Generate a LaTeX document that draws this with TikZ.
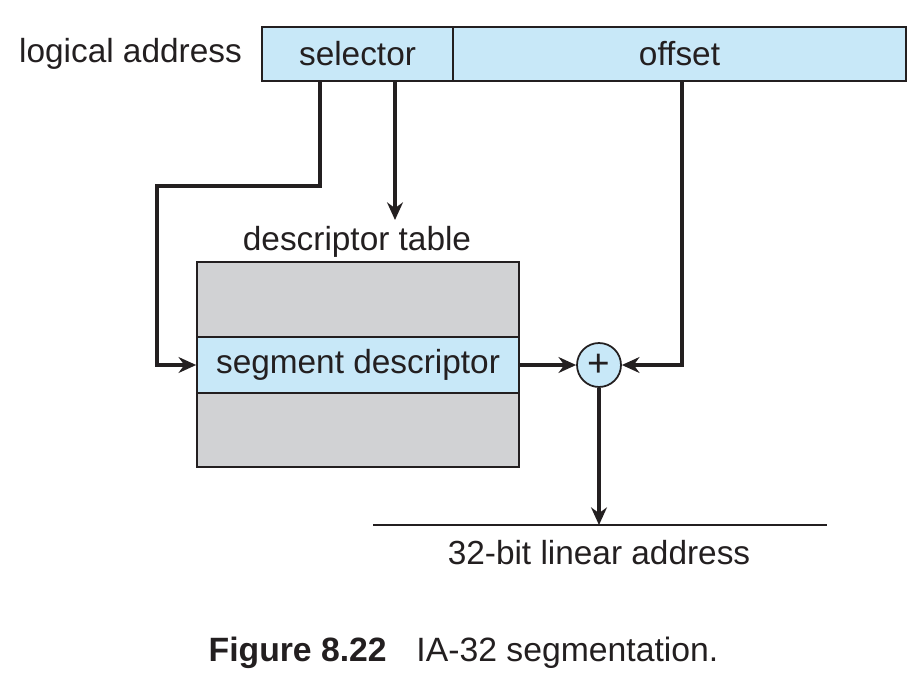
\documentclass[tikz,border=0pt]{standalone}
\usepackage{fontspec}
\setmainfont{Liberation Sans}
\usepackage{xcolor}
\usepackage{tikz}
\usetikzlibrary{arrows.meta, positioning, calc}

\definecolor{fieldblue}{HTML}{C8E8F8}
\definecolor{tablegray}{HTML}{D1D2D4}
\definecolor{inkdark}{HTML}{231F20}

\begin{document}
\begin{tikzpicture}[
                x=0.02cm, y=-0.02cm,
                every node/.style={font=\fontsize{19}{23}\selectfont, text=inkdark},
                field/.style={rectangle, draw=inkdark, line width=1pt, fill=fieldblue, minimum height=1.08cm, inner sep=0pt},
                table/.style={rectangle, draw=inkdark, line width=1pt, fill=tablegray, minimum width=6.44cm, minimum height=4.1cm},
                adder/.style={circle, draw=inkdark, line width=1pt, fill=fieldblue, minimum size=0.88cm, inner sep=0pt},
                conn/.style={draw=inkdark, line width=2.2pt},
                arr/.style={conn, -{Stealth[length=10pt, width=9pt]}}
            ]
                \useasboundingbox (0,0) rectangle (920,684);

                % Logical address
                \node[anchor=east] (LA) at (248,54) {logical address};
                \node[field, minimum width=3.82cm] (SEL) at (357.5,54) {selector};
                \node[field, minimum width=9.06cm] (OFF) at (679.5,54) {offset};

                % Descriptor table
                \node (TL) at (357,242) {descriptor table};
                \node[table] (DT) at (358,364.5) {};
                \node[field, minimum width=6.44cm, minimum height=1.12cm] (SD) at (358,365) {segment descriptor};

                % Adder
                \node[adder] (ADD) at (599,365) {\fontsize{22}{22}\selectfont +};

                % Linear address
                \coordinate (LL) at (373,525);
                \coordinate (LR) at (827,525);
                \draw[draw=inkdark, line width=0.8pt] (LL) -- (LR);
                \node (LIN) at (599,553) {32-bit linear address};

                % Edges
                \coordinate (TIN) at (395,220);
                \draw[arr] ([xshift=-0.75cm]SEL.south) -- ++(0,104) -| (157,365) -- (SD.west);
                \draw[arr] ([xshift=0.75cm]SEL.south) -- (TIN);
                \draw[arr] ([xshift=0.05cm]OFF.south) |- (ADD.east);
                \draw[arr] (SD.east) -- (ADD.west);
                \draw[arr] (ADD.south) -- (ADD.south |- LL);

                % Caption
                \node[font=\fontsize{19.2}{23}\selectfont] (CAP) at (463.5,653) {{\bfseries Figure 8.22}\hspace{0.88em}IA-32 segmentation.};
            \end{tikzpicture}
\end{document}
